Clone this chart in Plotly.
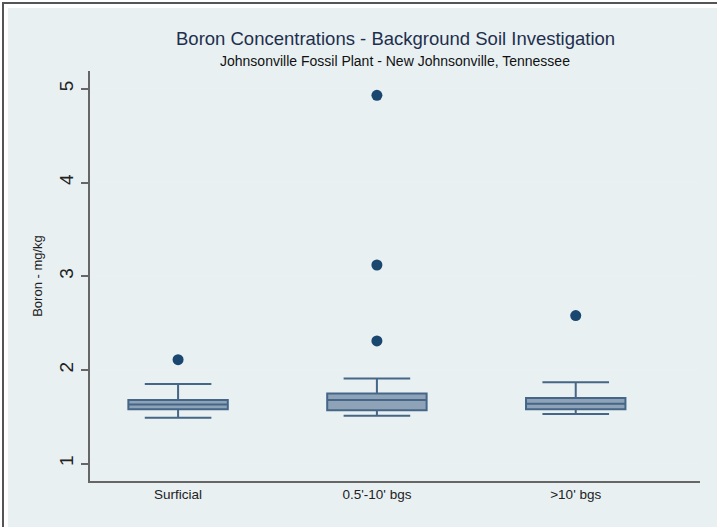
import plotly.graph_objects as go

categories = ["Surficial", "0.5'-10' bgs", ">10' bgs"]
lower_fence = [1.49, 1.51, 1.53]
q1 = [1.58, 1.57, 1.58]
median = [1.63, 1.68, 1.64]
q3 = [1.68, 1.75, 1.70]
upper_fence = [1.85, 1.91, 1.87]
outlier_x = ["Surficial", "0.5'-10' bgs", "0.5'-10' bgs", "0.5'-10' bgs", ">10' bgs"]
outlier_y = [2.11, 4.93, 3.12, 2.31, 2.58]

W, H = 717, 527
L, R, T, B = 90, 17, 71, 46
pw, ph = W - L - R, H - T - B

def px(x):
    return (x - L) / pw

def py(y):
    return (H - B - y) / ph

fig = go.Figure()
fig.add_trace(go.Box(
    x=categories, q1=q1, median=median, q3=q3,
    lowerfence=lower_fence, upperfence=upper_fence,
    width=0.5, whiskerwidth=0.67,
    fillcolor="#8ea3b7", line=dict(color="#456687", width=2),
    boxpoints=False, showlegend=False, hoverinfo="y",
))
fig.add_trace(go.Scatter(
    x=outlier_x, y=outlier_y, mode="markers",
    marker=dict(color="#1a476f", size=11), showlegend=False,
))

fig.update_layout(
    width=W, height=H,
    margin=dict(l=L, r=R, t=T, b=B),
    paper_bgcolor="white", plot_bgcolor="white",
    font=dict(family="Liberation Sans, Arial, sans-serif", color="#222"),
    shapes=[
        dict(type="rect", xref="paper", yref="paper", layer="below",
             x0=px(3), x1=px(W + 20), y0=py(H + 20), y1=py(3),
             line=dict(color="#555", width=2), fillcolor="white"),
        dict(type="rect", xref="paper", yref="paper", layer="below",
             x0=px(8), x1=px(W + 20), y0=py(H + 20), y1=py(8),
             line=dict(width=0), fillcolor="#e8f0f2"),
    ],
    annotations=[
        dict(text="Boron Concentrations - Background Soil Investigation",
             xref="paper", yref="paper", x=0.5, y=py(39), showarrow=False,
             xanchor="center", yanchor="middle",
             font=dict(size=18.5, color="#1e2f4d")),
        dict(text="Johnsonville Fossil Plant - New Johnsonville, Tennessee",
             xref="paper", yref="paper", x=0.5, y=py(61), showarrow=False,
             xanchor="center", yanchor="middle",
             font=dict(size=14, color="#111")),
    ],
    xaxis=dict(type="category", range=[-0.443, 2.625],
               showline=True, linecolor="#666", linewidth=2,
               ticks="", showgrid=False, tickfont=dict(size=13.5, color="#222"),
               zeroline=False),
    yaxis=dict(range=[0.815, 5.19], tickvals=[1, 2, 3, 4, 5],
               showline=True, linecolor="#666", linewidth=2,
               ticks="outside", ticklen=7, tickcolor="#666", tickwidth=1.5,
               tickangle=-90, tickfont=dict(size=19, color="#222"),
               showgrid=True, gridcolor="#eaf0f3", gridwidth=1,
               zeroline=False,
               title=dict(text="Boron - mg/kg", font=dict(size=13, color="#222"), standoff=11)),
)

fig.write_html("out.html", config={"displayModeBar": False},
               post_script="document.body.style.margin='0';document.body.style.padding='0';")
